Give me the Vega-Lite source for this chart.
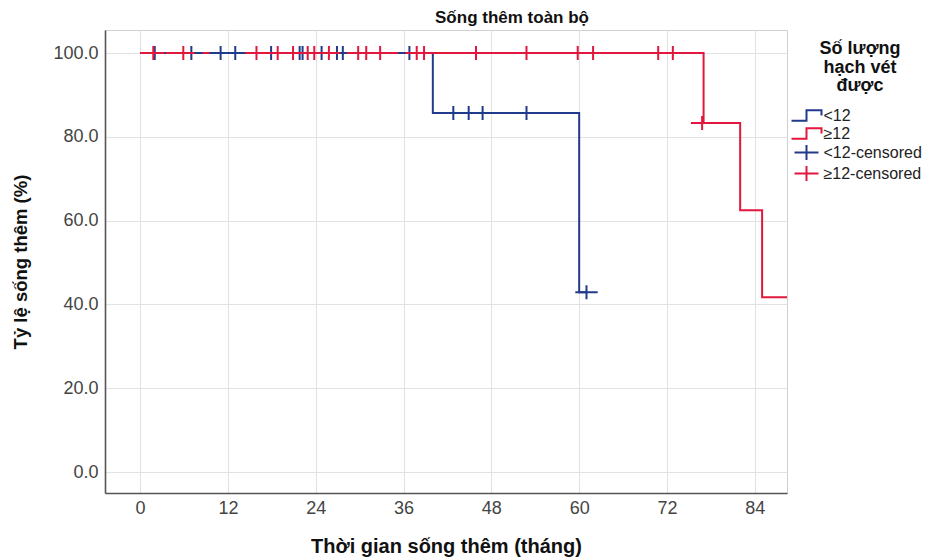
{
  "$schema": "https://vega.github.io/schema/vega-lite/v6.json",
  "autosize": "none",
  "width": 682,
  "height": 463,
  "padding": {"left": 105, "top": 30, "right": 140, "bottom": 67},
  "background": "white",
  "config": {
    "font": "Liberation Sans",
    "view": {"stroke": "#d0d0d0", "strokeWidth": 1},
    "axis": {
      "labelFont": "Liberation Sans",
      "titleFont": "Liberation Sans",
      "labelFontSize": 18,
      "labelColor": "#444444",
      "titleFontSize": 19,
      "titleFontWeight": "bold",
      "titleColor": "#111111",
      "gridColor": "#e2e2e2",
      "gridWidth": 1,
      "domainColor": "#555555",
      "domainWidth": 1.6,
      "ticks": false
    },
    "legend": {
      "titleFont": "Liberation Sans",
      "labelFont": "Liberation Sans"
    }
  },
  "title": {
    "text": "Sống thêm toàn bộ",
    "fontSize": 17,
    "fontWeight": "bold",
    "color": "#111111",
    "anchor": "middle",
    "dx": 66,
    "offset": 3
  },
  "datasets": {
    "curves": [
      {"grp": "<12", "t": 0, "s": 100},
      {"grp": "<12", "t": 40, "s": 85.7},
      {"grp": "<12", "t": 60, "s": 42.9},
      {"grp": "<12", "t": 61, "s": 42.9},
      {"grp": "≥12", "t": 0, "s": 100},
      {"grp": "≥12", "t": 77, "s": 83.3},
      {"grp": "≥12", "t": 82, "s": 62.5},
      {"grp": "≥12", "t": 85, "s": 41.7},
      {"grp": "≥12", "t": 90, "s": 41.7}
    ],
    "censored": [
      {"grp": "<12-censored", "t": 2, "s": 100},
      {"grp": "<12-censored", "t": 7, "s": 100},
      {"grp": "<12-censored", "t": 11, "s": 100},
      {"grp": "<12-censored", "t": 13, "s": 100},
      {"grp": "<12-censored", "t": 17.9, "s": 100},
      {"grp": "<12-censored", "t": 21.8, "s": 100},
      {"grp": "<12-censored", "t": 22.2, "s": 100},
      {"grp": "<12-censored", "t": 24.8, "s": 100},
      {"grp": "<12-censored", "t": 26.9, "s": 100},
      {"grp": "<12-censored", "t": 27.7, "s": 100},
      {"grp": "<12-censored", "t": 36.8, "s": 100},
      {"grp": "<12-censored", "t": 42.8, "s": 85.7},
      {"grp": "<12-censored", "t": 44.9, "s": 85.7},
      {"grp": "<12-censored", "t": 46.8, "s": 85.7},
      {"grp": "<12-censored", "t": 52.8, "s": 85.7},
      {"grp": "<12-censored", "t": 61, "s": 42.9},
      {"grp": "≥12-censored", "t": 1.8, "s": 100},
      {"grp": "≥12-censored", "t": 5.9, "s": 100},
      {"grp": "≥12-censored", "t": 15.9, "s": 100},
      {"grp": "≥12-censored", "t": 18.8, "s": 100},
      {"grp": "≥12-censored", "t": 20.9, "s": 100},
      {"grp": "≥12-censored", "t": 22.9, "s": 100},
      {"grp": "≥12-censored", "t": 23.8, "s": 100},
      {"grp": "≥12-censored", "t": 25.8, "s": 100},
      {"grp": "≥12-censored", "t": 29.8, "s": 100},
      {"grp": "≥12-censored", "t": 30.9, "s": 100},
      {"grp": "≥12-censored", "t": 32.8, "s": 100},
      {"grp": "≥12-censored", "t": 37.8, "s": 100},
      {"grp": "≥12-censored", "t": 38.8, "s": 100},
      {"grp": "≥12-censored", "t": 45.9, "s": 100},
      {"grp": "≥12-censored", "t": 52.8, "s": 100},
      {"grp": "≥12-censored", "t": 59.8, "s": 100},
      {"grp": "≥12-censored", "t": 61.9, "s": 100},
      {"grp": "≥12-censored", "t": 70.8, "s": 100},
      {"grp": "≥12-censored", "t": 72.8, "s": 100},
      {"grp": "≥12-censored", "t": 76.8, "s": 83.3}
    ]
  },
  "encoding": {
    "x": {
      "field": "t",
      "type": "quantitative",
      "scale": {"domain": [-4.8, 88.4], "nice": false, "zero": false},
      "axis": {
        "title": "Thời gian sống thêm (tháng)",
        "titleFontSize": 20,
        "values": [0, 12, 24, 36, 48, 60, 72, 84],
        "labelPadding": 6,
        "titlePadding": 19,
        "grid": true
      }
    },
    "y": {
      "field": "s",
      "type": "quantitative",
      "scale": {"domain": [-5, 105.5], "nice": false, "zero": false},
      "axis": {
        "title": "Tỷ lệ sống thêm (%)",
        "titleFontSize": 18.5,
        "values": [0, 20, 40, 60, 80, 100],
        "format": ".1f",
        "labelPadding": 7,
        "titlePadding": 22,
        "grid": true
      }
    }
  },
  "layer": [
    {
      "data": {"name": "curves"},
      "transform": [{"filter": "datum.grp === '<12'"}],
      "mark": {"type": "line", "interpolate": "step-after", "color": "#223a8a", "strokeWidth": 2, "clip": true}
    },
    {
      "data": {"name": "curves"},
      "transform": [{"filter": "datum.grp === '≥12'"}],
      "mark": {"type": "line", "interpolate": "step-after", "color": "#e2173d", "strokeWidth": 2, "clip": true}
    },
    {
      "data": {"name": "censored"},
      "mark": {
        "type": "point",
        "size": 196,
        "filled": false,
        "strokeWidth": 2,
        "opacity": 1,
        "clip": true
      },
      "encoding": {
        "color": {
          "field": "grp",
          "type": "nominal",
          "scale": {
            "domain": ["<12", "≥12", "<12-censored", "≥12-censored"],
            "range": ["#223a8a", "#e2173d", "#223a8a", "#e2173d"]
          },
          "legend": {
            "title": ["Số lượng", "hạch vét", "được"],
            "titleFontSize": 18,
            "titleFontWeight": "bold",
            "titleColor": "#111111",
            "titleAlign": "center",
            "titleAnchor": "middle",
            "titleLineHeight": 18.5,
            "titlePadding": 12,
            "labelFontSize": 16,
            "labelColor": "#222222",
            "labelOffset": 8.5,
            "symbolSize": 225,
            "symbolStrokeWidth": 2,
            "rowPadding": -2,
            "offset": 0.5,
            "padding": 10
          }
        },
        "shape": {
          "field": "grp",
          "type": "nominal",
          "scale": {
            "domain": ["<12", "≥12", "<12-censored", "≥12-censored"],
            "range": [
              "M-2,0.7L0,0.7L0,-0.7L2,-0.7L2,0",
              "M-2,0.7L0,0.7L0,-0.7L2,-0.7L2,0",
              "M-1.6,0L1.6,0M0,-1L0,1",
              "M-1.6,0L1.6,0M0,-1L0,1"
            ]
          },
          "legend": {
            "title": ["Số lượng", "hạch vét", "được"]
          }
        }
      }
    }
  ]
}
